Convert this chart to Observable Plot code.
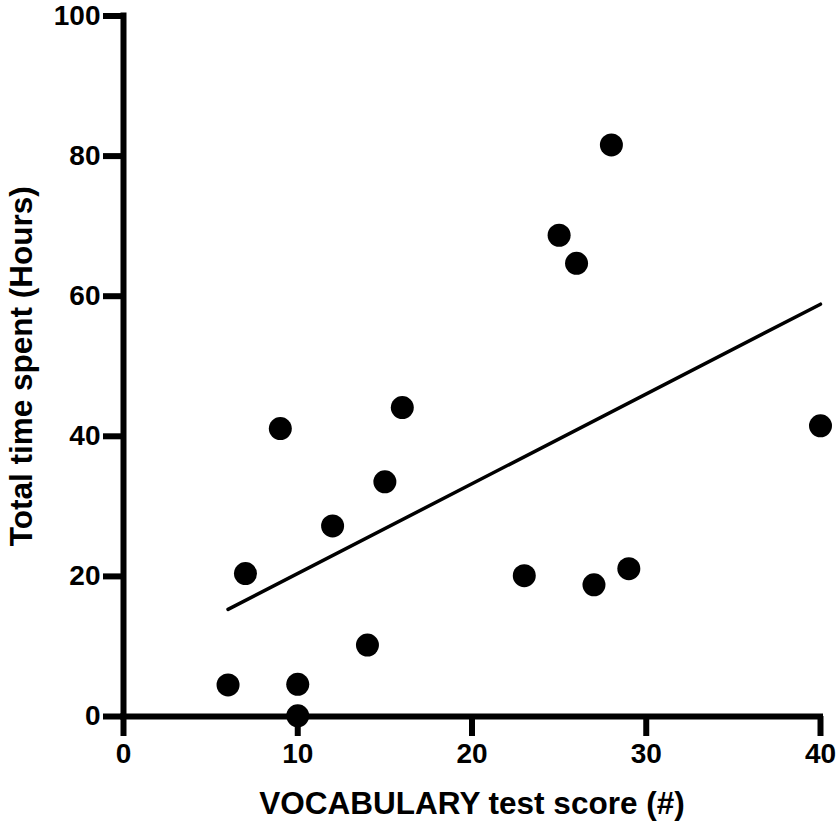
<!DOCTYPE html>
<html>
<head>
<meta charset="utf-8">
<script src="https://cdn.jsdelivr.net/npm/d3@7"></script>
<script src="https://cdn.jsdelivr.net/npm/@observablehq/plot@0.6"></script>
<style>
  html, body { margin: 0; padding: 0; background: #fff; }
</style>
</head>
<body>
<div id="chart"></div>
<script>
const vocabScore = [6, 7, 9, 10, 10, 12, 14, 15, 16, 23, 25, 26, 27, 28, 29, 40];
const hoursSpent = [4.5, 20.4, 41.1, 4.6, 0.1, 27.2, 10.2, 33.5, 44.1, 20.1, 68.7, 64.7, 18.8, 81.6, 21.1, 41.5];
const xTicks = [0, 10, 20, 30, 40];
const yTicks = [0, 20, 40, 60, 80, 100];
const xTitle = "VOCABULARY test score (#)";
const yTitle = "Total time spent (Hours)";

const data = vocabScore.map((x, i) => ({x, y: hoursSpent[i]}));

const chart = Plot.plot({
  width: 839,
  height: 823,
  marginLeft: 123,
  marginRight: 19,
  marginTop: 15.5,
  marginBottom: 107,
  style: {fontFamily: "'Liberation Sans', Arial, sans-serif", fontSize: "28px", fontWeight: "bold", color: "#000", background: "#fff"},
  x: {domain: [0, 40]},
  y: {domain: [0, 100]},
  marks: [
    Plot.axisX({ticks: xTicks, tickSize: 20, tickPadding: 7, strokeWidth: 6, label: null, fill: "#000", fontSize: 28, fontWeight: "bold", tickFormat: d => String(d)}),
    Plot.axisY({ticks: yTicks, tickSize: 20, tickPadding: 3, strokeWidth: 6, label: null, fill: "#000", fontSize: 28, fontWeight: "bold", tickFormat: d => String(d)}),
    Plot.ruleY([0], {stroke: "#000", strokeWidth: 6, strokeLinecap: "square"}),
    Plot.ruleX([0], {stroke: "#000", strokeWidth: 6, strokeLinecap: "square"}),
    Plot.linearRegressionY(data, {x: "x", y: "y", stroke: "#000", strokeWidth: 3.5, ci: 0}),
    Plot.dot(data, {x: "x", y: "y", r: 11.5, fill: "#000", stroke: null}),
    Plot.text([xTitle], {frameAnchor: "bottom", dy: 97, fontSize: 31.5, fontWeight: "bold", fill: "#000", textAnchor: "middle"}),
    Plot.text([yTitle], {frameAnchor: "left", rotate: -90, dx: -102, fontSize: 31.5, fontWeight: "bold", fill: "#000", textAnchor: "middle"})
  ]
});
document.getElementById("chart").appendChild(chart);
</script>
</body>
</html>
